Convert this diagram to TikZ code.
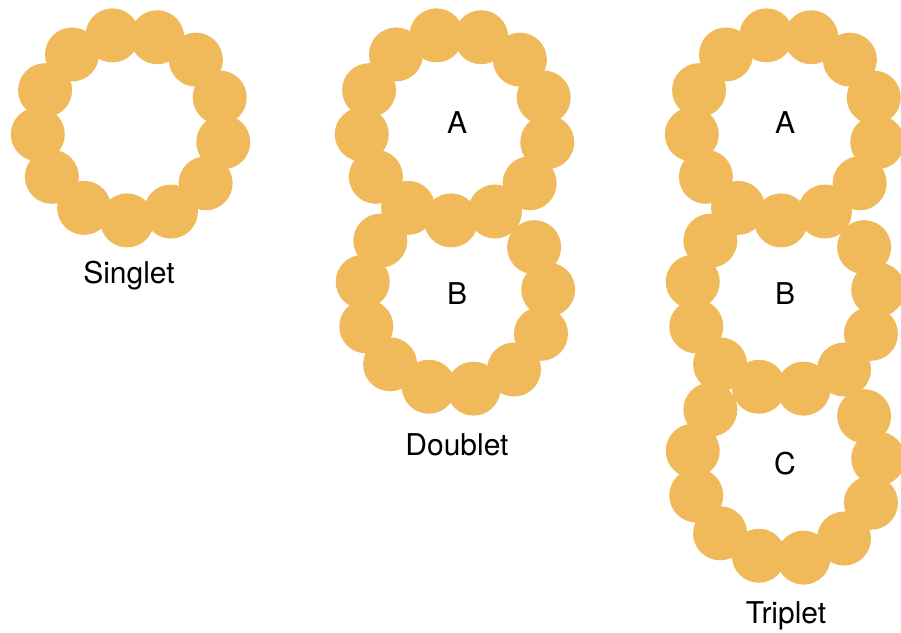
\documentclass[tikz,border=0pt]{standalone}
\usepackage{fontspec}
\setmainfont{TeX Gyre Heros}
\definecolor{tubulin}{RGB}{240,185,90}
\tikzset{
    protofil/.style={fill=tubulin},
    tubelabel/.style={anchor=base, inner sep=0pt, font=\fontsize{30}{36}\selectfont}
}

\begin{document}
\begin{tikzpicture}[x=1pt,y=1pt]

        \useasboundingbox (0,0) rectangle (901,632);

        % Singlet: full ring of 13 protofilaments
        \foreach \i in {0,...,12}
            {
                \fill[protofil] (131,505) ++(267.6+27.69*\i:93.5) circle (27);
            }
        \node[tubelabel] (singlet) at (129,348) {Singlet};

        % Doublet: complete A tubule, B tubule shares the A wall
        \foreach \i in {0,...,12}
            {
                \fill[protofil] (455,505) ++(267.6+27.69*\i:93.5) circle (27);
            }
        \foreach \i in {2,...,11}
            {
                \fill[protofil] (455,335) ++(87.6+27.69*\i:93.5) circle (27);
            }
        \node[tubelabel] (dA) at (457,498) {A};
        \node[tubelabel] (dB) at (457,327) {B};
        \node[tubelabel] (doublet) at (457,177) {Doublet};

        % Triplet: A, then B and C stacked below
        \foreach \i in {0,...,12}
            {
                \fill[protofil] (785,505) ++(267.6+27.69*\i:93.5) circle (27);
            }
        \foreach \i in {2,...,11}
            {
                \fill[protofil] (785,335) ++(87.6+27.69*\i:93.5) circle (27);
                \fill[protofil] (785,166) ++(87.6+27.69*\i:93.5) circle (27);
            }
        \node[tubelabel] (tA) at (785,498) {A};
        \node[tubelabel] (tB) at (785,327) {B};
        \node[tubelabel] (tC) at (785,158) {C};
        \node[tubelabel] (triplet) at (786,9) {Triplet};

    \end{tikzpicture}
\end{document}
